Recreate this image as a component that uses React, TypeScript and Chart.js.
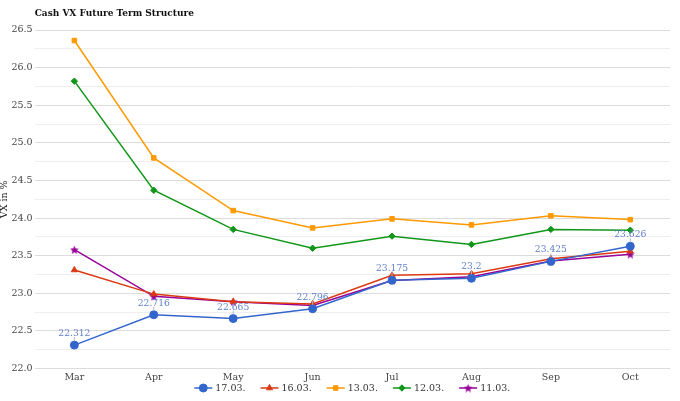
import React, { useEffect, useRef } from "react";
import { Chart, registerables } from "chart.js";
import { drawPoint } from "chart.js/helpers";

Chart.register(...registerables);

const categories = ["Mar", "Apr", "May", "Jun", "Jul", "Aug", "Sep", "Oct"];
const series1703 = [22.312, 22.716, 22.665, 22.796, 23.175, 23.2, 23.425, 23.626];
const series1603 = [23.31, 22.99, 22.89, 22.86, 23.24, 23.26, 23.46, 23.56];
const series1303 = [26.36, 24.8, 24.1, 23.87, 23.99, 23.91, 24.03, 23.98];
const series1203 = [25.82, 24.37, 23.85, 23.6, 23.76, 23.65, 23.85, 23.84];
const series1103 = [23.58, 22.96, 22.89, 22.84, 23.17, 23.22, 23.43, 23.52];
const seriesNames = ["17.03.", "16.03.", "13.03.", "12.03.", "11.03."];
const titleText = "Cash VX Future Term Structure";
const yTitle = "VX in %";

const FONT = "'DejaVu Serif', serif";

function makeStar(color: string, size: number) {
  const c = document.createElement("canvas");
  const dpr = window.devicePixelRatio || 1;
  c.width = size * dpr;
  c.height = size * dpr;
  c.style.width = size + "px";
  c.style.height = size + "px";
  const ctx = c.getContext("2d")!;
  ctx.scale(dpr, dpr);
  const cx = size / 2;
  const cy = size / 2 + 0.5;
  const R = size / 2;
  const r = R * 0.45;
  ctx.beginPath();
  for (let i = 0; i < 10; i++) {
    const a = -Math.PI / 2 + (i * Math.PI) / 5;
    const rad = i % 2 === 0 ? R : r;
    const x = cx + rad * Math.cos(a);
    const y = cy + rad * Math.sin(a);
    if (i === 0) ctx.moveTo(x, y);
    else ctx.lineTo(x, y);
  }
  ctx.closePath();
  ctx.fillStyle = color;
  ctx.fill();
  return c;
}

const titlePlugin = {
  id: "customTitle",
  afterDraw(chart: any) {
    const ctx = chart.ctx;
    ctx.save();
    ctx.font = `bold 9px ${FONT}`;
    ctx.fillStyle = "#111";
    ctx.textAlign = "left";
    ctx.textBaseline = "middle";
    ctx.fillText(titleText, chart.chartArea.left, 14);
    ctx.restore();
  },
};

const labelPlugin = {
  id: "dataLabels",
  afterDatasetsDraw(chart: any) {
    const ctx = chart.ctx;
    const meta = chart.getDatasetMeta(0);
    const data = chart.data.datasets[0].data;
    ctx.save();
    ctx.font = `9.2px ${FONT}`;
    ctx.fillStyle = "#5f7fc8";
    ctx.strokeStyle = "#a9b8dc";
    ctx.lineWidth = 1;
    ctx.textAlign = "center";
    ctx.textBaseline = "alphabetic";
    meta.data.forEach((pt: any, i: number) => {
      const x = pt.x;
      const y = pt.y;
      ctx.beginPath();
      ctx.moveTo(x, y - 4);
      ctx.lineTo(x, y - 8);
      ctx.stroke();
      ctx.fillText(String(data[i]), x, y - 9);
    });
    ctx.restore();
  },
};

const legendPlugin = {
  id: "customLegend",
  afterDraw(chart: any) {
    const ctx = chart.ctx;
    const ds = chart.data.datasets;
    ctx.save();
    ctx.font = `9.5px ${FONT}`;
    const lineW = 18;
    const gap = 3;
    const itemGap = 15;
    const widths = ds.map((d: any) => lineW + gap + ctx.measureText(d.label).width);
    const total = widths.reduce((a: number, b: number) => a + b, 0) + itemGap * (ds.length - 1);
    const ca = chart.chartArea;
    let x = (ca.left + ca.right - total) / 2;
    const y = 388;
    ds.forEach((d: any, i: number) => {
      ctx.strokeStyle = d.borderColor;
      ctx.fillStyle = d.borderColor;
      ctx.lineWidth = 1.5;
      ctx.beginPath();
      ctx.moveTo(x, y);
      ctx.lineTo(x + lineW, y);
      ctx.stroke();
      ctx.lineWidth = 1;
      drawPoint(
        ctx,
        {
          pointStyle: d.pointStyle,
          radius: d.pointRadius,
          rotation: 0,
          borderWidth: 1,
        } as any,
        x + lineW / 2,
        y
      );
      ctx.fillStyle = "#333";
      ctx.textAlign = "left";
      ctx.textBaseline = "middle";
      ctx.fillText(d.label, x + lineW + gap, y + 0.5);
      x += widths[i] + itemGap;
    });
    ctx.restore();
  },
};

function mk(label: string, data: number[], color: string, style: any, r: number) {
  return {
    label,
    data,
    borderColor: color,
    backgroundColor: color,
    pointBackgroundColor: color,
    pointBorderColor: color,
    pointStyle: style,
    pointRadius: r,
    pointBorderWidth: 1,
    borderWidth: 1.5,
    tension: 0,
  };
}

export default function App() {
  const ref = useRef<HTMLCanvasElement>(null);
  useEffect(() => {
    const star = makeStar("#990099", 9);
    const chart = new Chart(ref.current as HTMLCanvasElement, {
      type: "line",
      data: {
        labels: categories,
        datasets: [
          mk(seriesNames[0], series1703, "#3366cc", "circle", 4),
          mk(seriesNames[1], series1603, "#dc3912", "triangle", 3.5),
          mk(seriesNames[2], series1303, "#ff9900", "rect", 3.2),
          mk(seriesNames[3], series1203, "#109618", "rectRot", 3.2),
          mk(seriesNames[4], series1103, "#990099", star, 4.5),
        ] as any,
      },
      options: {
        animation: false,
        responsive: false,
        layout: { padding: { top: 30, bottom: 15, right: 10, left: 0 } },
        plugins: {
          legend: { display: false },
          title: { display: false },
          tooltip: { enabled: false },
        },
        scales: {
          x: {
            offset: true,
            grid: { display: false, drawTicks: false },
            border: { display: false },
            ticks: { font: { family: FONT, size: 9.5 }, color: "#444", padding: 3 },
          },
          y: {
            min: 22,
            max: 26.5,
            border: { display: false },
            title: {
              display: true,
              text: yTitle,
              font: { family: FONT, size: 9.5, lineHeight: 1 },
              color: "#222",
              padding: 0,
            },
            grid: {
              drawTicks: false,
              color: (c: any) =>
                Math.abs((c.tick.value * 2) % 1) < 1e-6 ? "#dcdcdc" : "#eeeeee",
              lineWidth: 1,
            },
            ticks: {
              stepSize: 0.25,
              autoSkip: false,
              padding: 2,
              font: { family: FONT, size: 9.5 },
              color: "#444",
              callback: (v: any) =>
                Math.abs((Number(v) * 2) % 1) < 1e-6 ? Number(v).toFixed(1) : "",
            },
          },
        },
      },
      plugins: [titlePlugin, labelPlugin, legendPlugin],
    });
    return () => chart.destroy();
  }, []);
  return (
    <div style={{ position: "fixed", left: 0, top: 0, width: 680, height: 401, background: "#fff" }}>
      <canvas ref={ref} width={680} height={401} style={{ width: 680, height: 401 }} />
    </div>
  );
}
